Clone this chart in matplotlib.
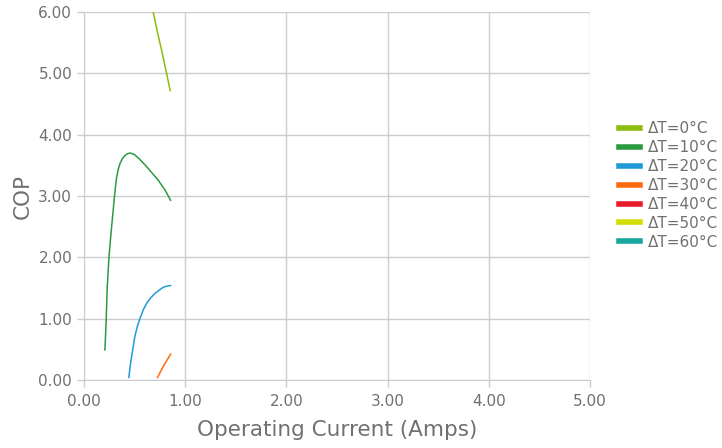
import numpy as np
import matplotlib.pyplot as plt

plt.rcParams['font.family'] = ['DejaVu Sans']

# 数据
labels = ['ΔT=0°C', 'ΔT=10°C', 'ΔT=20°C', 'ΔT=30°C', 'ΔT=40°C', 'ΔT=50°C', 'ΔT=60°C']
colors = ['#8cbd0c', '#2a9a40', '#1f9ad8', '#ff6a0a', '#e81c2a', '#d2de00', '#17a69c']

x0 = [0.684, 0.725, 0.767, 0.81, 0.852]
y0 = [6.00, 5.68, 5.38, 5.05, 4.72]

x10 = [0.207, 0.214, 0.220, 0.230, 0.247, 0.267, 0.289, 0.296, 0.310, 0.323, 0.340,
       0.356, 0.380, 0.405, 0.430, 0.454, 0.480, 0.503, 0.550, 0.602, 0.665, 0.733, 0.80, 0.856]
y10 = [0.49, 0.75, 1.00, 1.52, 2.00, 2.39, 2.77, 2.90, 3.13, 3.31, 3.44,
       3.53, 3.61, 3.66, 3.69, 3.70, 3.69, 3.67, 3.60, 3.51, 3.39, 3.26, 3.10, 2.93]

x20 = [0.444, 0.456, 0.471, 0.487, 0.503, 0.527, 0.553, 0.585, 0.619, 0.66, 0.701, 0.74, 0.783, 0.82, 0.856]
y20 = [0.04, 0.22, 0.38, 0.55, 0.71, 0.87, 1.00, 1.14, 1.25, 1.34, 1.41, 1.46, 1.51, 1.53, 1.54]

x30 = [0.727, 0.755, 0.783, 0.82, 0.856]
y30 = [0.04, 0.13, 0.22, 0.32, 0.42]

series = [(x0, y0), (x10, y10), (x20, y20), (x30, y30), ([], []), ([], []), ([], [])]

fig = plt.figure(figsize=(7.22, 4.48), dpi=100)
ax = fig.add_axes([0.1163, 0.152, 0.7008, 0.821])

for (xs, ys), lab, c in zip(series, labels, colors):
    ax.plot(xs, ys, color=c, lw=1.1, label=lab, solid_joinstyle='round')

ax.set_xlim(0, 5)
ax.set_ylim(0, 6)
ax.set_xticks(np.arange(0, 6, 1))
ax.set_yticks(np.arange(0, 7, 1))
ax.set_xticklabels(['%.2f' % v for v in np.arange(0, 6, 1)])
ax.set_yticklabels(['%.2f' % v for v in np.arange(0, 7, 1)])
ax.grid(True, color='#cccccc', lw=1)
ax.set_axisbelow(True)
for s in ax.spines.values():
    s.set_visible(False)
ax.spines['left'].set_visible(True)
ax.spines['bottom'].set_visible(True)
ax.spines['left'].set_color('#cccccc')
ax.spines['bottom'].set_color('#cccccc')
ax.tick_params(colors='#cccccc', labelcolor='#707070', labelsize=11, length=5, width=1)
ax.tick_params(axis='x', pad=5)

ax.set_xlabel('Operating Current (Amps)', fontsize=15.5, color='#707070', labelpad=8)
ax.set_ylabel('COP', fontsize=15.5, color='#707070')

leg = ax.legend(loc='upper left', bbox_to_anchor=(1.057, 0.704), frameon=False,
                fontsize=11, handlelength=1.37, handletextpad=0.55, labelspacing=0.26,
                borderaxespad=0, borderpad=0, labelcolor='#707070')
for h in leg.get_lines():
    h.set_linewidth(4)

plt.savefig('out.png', dpi=100)
